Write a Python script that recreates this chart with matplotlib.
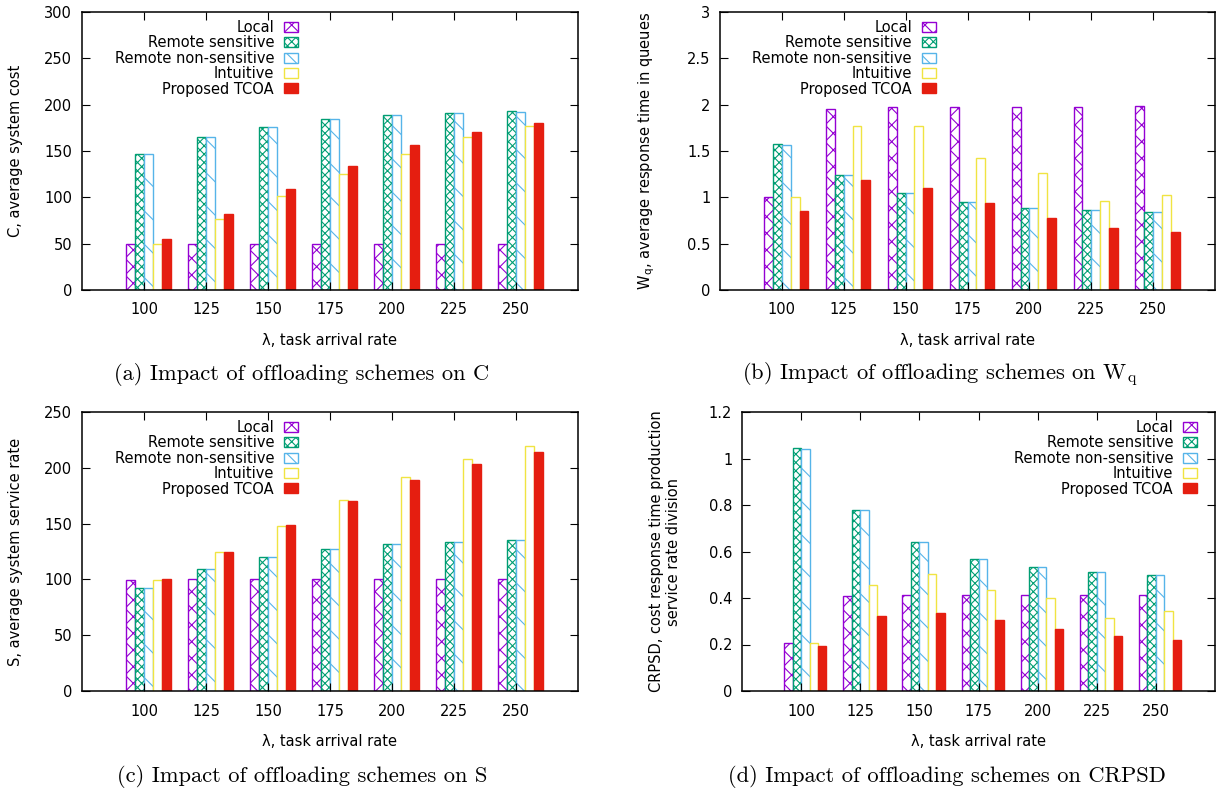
import numpy as np
import matplotlib
matplotlib.use("Agg")
import matplotlib.pyplot as plt
from matplotlib.ticker import FormatStrFormatter

plt.rcParams['font.family'] = ['DejaVu Sans']
plt.rcParams['mathtext.fontset'] = 'cm'
plt.rcParams['hatch.linewidth'] = 0.8

# data
rates = ['100', '125', '150', '175', '200', '225', '250']
schemes = ['Local', 'Remote sensitive', 'Remote non-sensitive', 'Intuitive', 'Proposed TCOA']

cost_local = [50, 50, 50, 50, 50, 50, 50]
cost_rsens = [147, 165, 176, 184, 188.5, 190.5, 193]
cost_rnons = [147, 165, 176, 184, 188.5, 190.5, 192]
cost_intui = [50, 76.5, 101, 125.5, 147, 165, 177]
cost_tcoa = [55, 82, 109, 133.5, 156, 171, 180]

wq_local = [1.0, 1.95, 1.97, 1.98, 1.98, 1.98, 1.985]
wq_rsens = [1.58, 1.24, 1.05, 0.95, 0.89, 0.86, 0.84]
wq_rnons = [1.57, 1.24, 1.05, 0.95, 0.89, 0.86, 0.84]
wq_intui = [1.0, 1.775, 1.775, 1.42, 1.265, 0.963, 1.025]
wq_tcoa = [0.85, 1.185, 1.1, 0.94, 0.775, 0.672, 0.625]

s_local = [99.5, 100, 100, 100, 100, 100, 100]
s_rsens = [92, 109, 120.5, 127, 131.5, 133.5, 135]
s_rnons = [92, 109, 120.5, 127, 131.5, 133.5, 135]
s_intui = [99.5, 124.5, 148.2, 171, 191.6, 208, 219.5]
s_tcoa = [100, 125, 148.8, 170.4, 189.2, 203.3, 213.8]

cr_local = [0.208, 0.407, 0.411, 0.412, 0.414, 0.415, 0.415]
cr_rsens = [1.046, 0.778, 0.639, 0.568, 0.532, 0.51, 0.499]
cr_rnons = [1.04, 0.778, 0.639, 0.568, 0.532, 0.51, 0.499]
cr_intui = [0.208, 0.454, 0.504, 0.433, 0.402, 0.316, 0.342]
cr_tcoa = [0.194, 0.323, 0.335, 0.305, 0.267, 0.236, 0.218]

colors = ['#9400D3', '#009E73', '#56B4E9', '#F0E442', '#E51E10']
hatches = ['xx', 'xxxx', '\\', None, None]

fs = 10.5
fig = plt.figure(figsize=(12.25, 7.92), dpi=100)

def panel(rect, series, ymax, ystep, ylabel, ylab_x, leg_x, caption, cap_xy, fmt='%g'):
    ax = fig.add_axes(rect)
    x = np.arange(len(rates))
    w = 1 / 7
    for i, vals in enumerate(series):
        if i == 4:
            face = colors[i]
        else:
            face = 'white'
        ax.bar(x - 2 * w + (i + 0.5) * w, vals, width=w, facecolor=face,
               edgecolor=colors[i], hatch=hatches[i], linewidth=1.0,
               label=schemes[i])
    ax.set_xlim(-1, 7)
    ax.set_ylim(0, ymax)
    ax.set_xticks(x)
    ax.set_xticklabels(rates)
    ax.set_yticks(np.arange(0, ymax + ystep / 2, ystep))
    ax.yaxis.set_major_formatter(FormatStrFormatter(fmt))
    ax.tick_params(direction='in', length=6, width=0.8, top=True, right=True,
                   labelsize=fs)
    ax.tick_params(axis='x', pad=9)
    ax.tick_params(axis='y', pad=7)
    for s in ax.spines.values():
        s.set_linewidth(1.1)
    ax.text(0.5, -0.18, 'λ, task arrival rate', transform=ax.transAxes,
            ha='center', va='center', fontsize=fs)
    ax.text(ylab_x, 0.5, ylabel, transform=ax.transAxes, rotation=90,
            ha='center', va='center', fontsize=fs, multialignment='center')
    ax.legend(loc='upper right', bbox_to_anchor=(leg_x, 0.972), frameon=False,
              markerfirst=False, fontsize=fs, borderpad=0, borderaxespad=0,
              handlelength=0.96, handleheight=0.68, handletextpad=0.68,
              labelspacing=0.03)
    fig.text(cap_xy[0] / 1225, 1 - cap_xy[1] / 792, caption, ha='center',
             va='center', fontsize=16.2, family='cmr10')
    return ax

panel([82 / 1225, 1 - 290 / 792, 496 / 1225, 278 / 792],
      [cost_local, cost_rsens, cost_rnons, cost_intui, cost_tcoa],
      300, 50, 'C, average system cost', -0.135, 0.4355,
      '(a) Impact of offloading schemes on C', (302, 375))
panel([720 / 1225, 1 - 290 / 792, 495 / 1225, 278 / 792],
      [wq_local, wq_rsens, wq_rnons, wq_intui, wq_tcoa],
      3, 0.5, r'W$_\mathregular{q}$, average response time in queues', -0.147, 0.436,
      r'(b) Impact of offloading schemes on $\mathrm{W_q}$', (940, 375))
panel([82 / 1225, 1 - 691 / 792, 496 / 1225, 279 / 792],
      [s_local, s_rsens, s_rnons, s_intui, s_tcoa],
      250, 50, 'S, average system service rate', -0.135, 0.4355,
      '(c) Impact of offloading schemes on S', (302, 776))
panel([742 / 1225, 1 - 691 / 792, 473 / 1225, 279 / 792],
      [cr_local, cr_rsens, cr_rnons, cr_intui, cr_tcoa],
      1.2, 0.2, 'CRPSD, cost response time production\nservice rate division', -0.163, 0.962,
      '(d) Impact of offloading schemes on CRPSD', (947, 776))

fig.savefig('out.png', dpi=100)
